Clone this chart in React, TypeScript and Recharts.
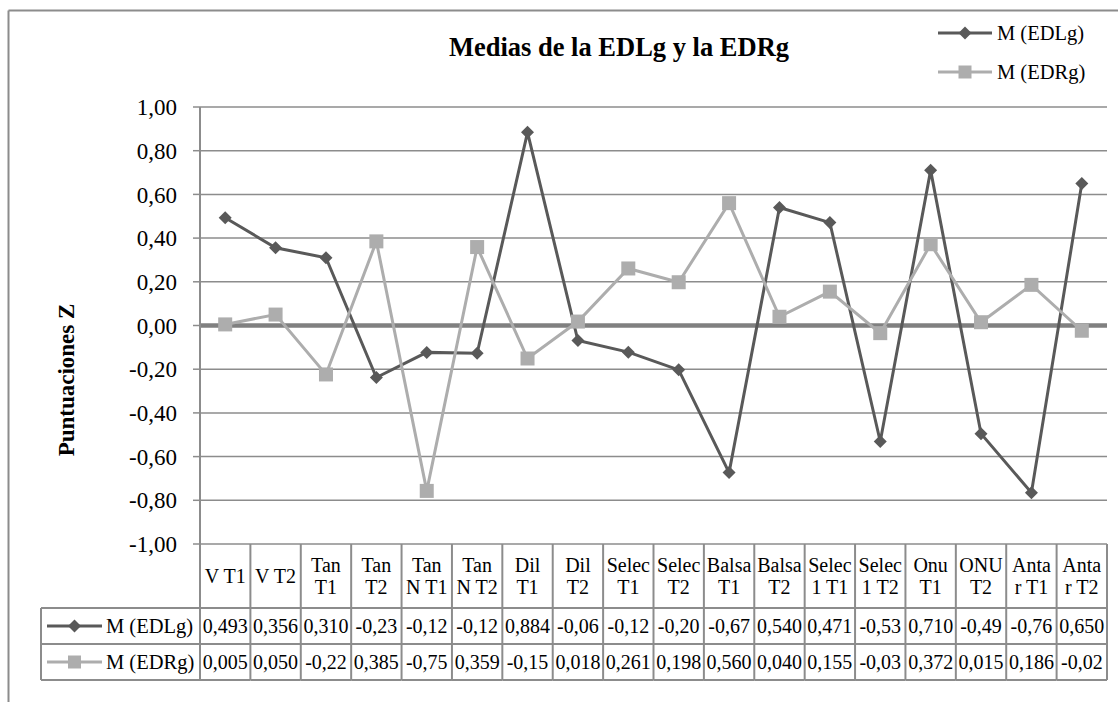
import React from "react";
import {
  LineChart,
  Line,
  XAxis,
  YAxis,
  CartesianGrid,
  ReferenceLine,
} from "recharts";

// ---------- data ----------
const categories = [
  "V T1", "V T2", "Tan\nT1", "Tan\nT2", "Tan\nN T1", "Tan\nN T2",
  "Dil\nT1", "Dil\nT2", "Selec\nT1", "Selec\nT2", "Balsa\nT1", "Balsa\nT2",
  "Selec\n1 T1", "Selec\n1 T2", "Onu\nT1", "ONU\nT2", "Anta\nr T1", "Anta\nr T2",
];
const edlg = [
  0.493, 0.356, 0.31, -0.238, -0.123, -0.127, 0.884, -0.069, -0.122,
  -0.203, -0.673, 0.54, 0.471, -0.531, 0.71, -0.495, -0.765, 0.65,
];
const edrg = [
  0.005, 0.05, -0.224, 0.385, -0.757, 0.359, -0.151, 0.018, 0.261,
  0.198, 0.56, 0.04, 0.155, -0.035, 0.372, 0.015, 0.186, -0.024,
];
const yTicks = [1, 0.8, 0.6, 0.4, 0.2, 0, -0.2, -0.4, -0.6, -0.8, -1];
const seriesNames = ["M (EDLg)", "M (EDRg)"];
const title = "Medias de la EDLg y la EDRg";
const yTitle = "Puntuaciones Z";

// ---------- style / layout ----------
const FONT = '"Liberation Serif", "Times New Roman", serif';
const DARK = "#595959";
const LIGHT = "#ADADAD";
const GRID = "#8C8C8C";
const W = 1118;
const H = 702;
const PLOT_LEFT = 200;
const PLOT_RIGHT = 1107;
const PLOT_TOP = 107;
const PLOT_BOTTOM = 544;
const COL_W = (PLOT_RIGHT - PLOT_LEFT) / categories.length;
const CAT_ROW_H = 64;
const VAL_ROW_H = 36;
const TABLE_LEFT = 41;

const data = categories.map((c, i) => ({ cat: c, edlg: edlg[i], edrg: edrg[i] }));

const fmtTick = (v: number) => v.toFixed(2).replace(".", ",");
const fmtCell = (v: number) => {
  if (v < 0) {
    const t = Math.floor(Math.abs(v) * 100 + 1e-9) / 100;
    return "-" + t.toFixed(2).replace(".", ",");
  }
  return v.toFixed(3).replace(".", ",");
};

const Diamond = ({ cx, cy, r = 6.5, fill }: any) => (
  <path d={`M${cx},${cy - r}L${cx + r},${cy}L${cx},${cy + r}L${cx - r},${cy}Z`} fill={fill} />
);
const Square = ({ cx, cy, s = 14, fill }: any) => (
  <rect x={cx - s / 2} y={cy - s / 2} width={s} height={s} fill={fill} />
);

const renderDiamond = (p: any) => (
  <Diamond key={`d-${p.index}`} cx={p.cx} cy={p.cy} fill={DARK} />
);
const renderSquare = (p: any) => (
  <Square key={`s-${p.index}`} cx={p.cx} cy={p.cy} fill={LIGHT} />
);

const LegendKey = ({ x1, x2, y, color, square }: any) => {
  const cx = (x1 + x2) / 2;
  return (
    <g>
      <line x1={x1} x2={x2} y1={y} y2={y} stroke={color} strokeWidth={3} />
      {square ? (
        <Square cx={cx} cy={y} s={13} fill={color} />
      ) : (
        <Diamond cx={cx} cy={y} r={6.5} fill={color} />
      )}
    </g>
  );
};

const TableTick = (props: any) => {
  const { x, y, index, payload } = props;
  const left = x - COL_W / 2;
  const right = x + COL_W / 2;
  const r1 = y + CAT_ROW_H;
  const r2 = r1 + VAL_ROW_H;
  const r3 = r2 + VAL_ROW_H;
  const lines = String(payload.value).split("\n");
  const catMid = y + CAT_ROW_H / 2;
  const lh = 22;
  const stroke = { stroke: GRID, strokeWidth: 2 };
  return (
    <g>
      {index === 0 && (
        <g>
          <line x1={TABLE_LEFT} x2={left} y1={r1} y2={r1} {...stroke} />
          <line x1={TABLE_LEFT} x2={left} y1={r2} y2={r2} {...stroke} />
          <line x1={TABLE_LEFT} x2={left} y1={r3} y2={r3} {...stroke} />
          <line x1={TABLE_LEFT} x2={TABLE_LEFT} y1={r1} y2={r3} {...stroke} />
          <line x1={left} x2={left} y1={y} y2={r3} {...stroke} />
          <LegendKey x1={47} x2={102} y={r1 + VAL_ROW_H / 2} color={DARK} />
          <LegendKey x1={47} x2={102} y={r2 + VAL_ROW_H / 2} color={LIGHT} square />
          <text x={106} y={r1 + VAL_ROW_H / 2} dy="0.35em" fontFamily={FONT} fontSize={20.5} fill="#000">
            {seriesNames[0]}
          </text>
          <text x={106} y={r2 + VAL_ROW_H / 2} dy="0.35em" fontFamily={FONT} fontSize={20.5} fill="#000">
            {seriesNames[1]}
          </text>
        </g>
      )}
      <line x1={right} x2={right} y1={y} y2={r3} {...stroke} />
      <line x1={left} x2={right} y1={r1} y2={r1} {...stroke} />
      <line x1={left} x2={right} y1={r2} y2={r2} {...stroke} />
      <line x1={left} x2={right} y1={r3} y2={r3} {...stroke} />
      {lines.map((t, k) => (
        <text
          key={k}
          x={x}
          y={catMid + (k - (lines.length - 1) / 2) * lh}
          dy="0.35em"
          textAnchor="middle"
          fontFamily={FONT}
          fontSize={20}
          fill="#000"
        >
          {t}
        </text>
      ))}
      <text x={x} y={r1 + VAL_ROW_H / 2} dy="0.35em" textAnchor="middle" fontFamily={FONT} fontSize={20} fill="#000">
        {fmtCell(edlg[index])}
      </text>
      <text x={x} y={r2 + VAL_ROW_H / 2} dy="0.35em" textAnchor="middle" fontFamily={FONT} fontSize={20} fill="#000">
        {fmtCell(edrg[index])}
      </text>
    </g>
  );
};

export default function App() {
  return (
    <div
      style={{
        position: "absolute",
        left: 0,
        top: 0,
        width: W,
        height: H,
        overflow: "hidden",
        background: "#fff",
      }}
    >
      <svg
        width={W}
        height={H}
        style={{ position: "absolute", left: 0, top: 0, pointerEvents: "none" }}
      >
        <line x1={8.5} x2={W} y1={10.5} y2={10.5} stroke={GRID} strokeWidth={2} />
        <line x1={8.5} x2={8.5} y1={10.5} y2={H} stroke={GRID} strokeWidth={2} />
        <text
          x={619}
          y={47}
          dy="0.35em"
          textAnchor="middle"
          fontFamily={FONT}
          fontWeight="bold"
          fontSize={26.5}
          fill="#000"
        >
          {title}
        </text>
        <text
          transform="translate(74,380) rotate(-90)"
          textAnchor="middle"
          fontFamily={FONT}
          fontWeight="bold"
          fontSize={23}
          fill="#000"
        >
          {yTitle}
        </text>
        <LegendKey x1={938} x2={992} y={33} color={DARK} />
        <LegendKey x1={938} x2={992} y={72} color={LIGHT} square />
        <text x={997} y={33} dy="0.35em" fontFamily={FONT} fontSize={20.5} fill="#000">
          {seriesNames[0]}
        </text>
        <text x={997} y={72} dy="0.35em" fontFamily={FONT} fontSize={20.5} fill="#000">
          {seriesNames[1]}
        </text>
      </svg>
      <div style={{ position: "absolute", left: 0, top: 0 }}>
        <LineChart
          width={W}
          height={H}
          data={data}
          margin={{ top: PLOT_TOP, right: W - PLOT_RIGHT, bottom: 22, left: 0 }}
        >
          <CartesianGrid horizontal vertical={false} stroke={GRID} strokeWidth={1.5} />
          <XAxis
            dataKey="cat"
            type="category"
            scale="point"
            padding={{ left: COL_W / 2, right: COL_W / 2 }}
            height={H - 22 - PLOT_BOTTOM}
            axisLine={false}
            tickLine={false}
            tickSize={0}
            tickMargin={0}
            interval={0}
            tick={<TableTick />}
          />
          <YAxis
            width={PLOT_LEFT}
            domain={[-1, 1]}
            ticks={yTicks}
            type="number"
            allowDataOverflow
            tickFormatter={fmtTick}
            tickSize={7}
            tickMargin={16}
            axisLine={{ stroke: GRID, strokeWidth: 2 }}
            tickLine={{ stroke: GRID, strokeWidth: 1.5 }}
            tick={{ fontFamily: FONT, fontSize: 23, fill: "#000" }}
          />
          <ReferenceLine y={0} stroke="#808080" strokeWidth={4.5} />
          <Line
            dataKey="edlg"
            name={seriesNames[0]}
            type="linear"
            stroke={DARK}
            strokeWidth={3}
            dot={renderDiamond}
            activeDot={false}
            isAnimationActive={false}
          />
          <Line
            dataKey="edrg"
            name={seriesNames[1]}
            type="linear"
            stroke={LIGHT}
            strokeWidth={3}
            dot={renderSquare}
            activeDot={false}
            isAnimationActive={false}
          />
        </LineChart>
      </div>
    </div>
  );
}
